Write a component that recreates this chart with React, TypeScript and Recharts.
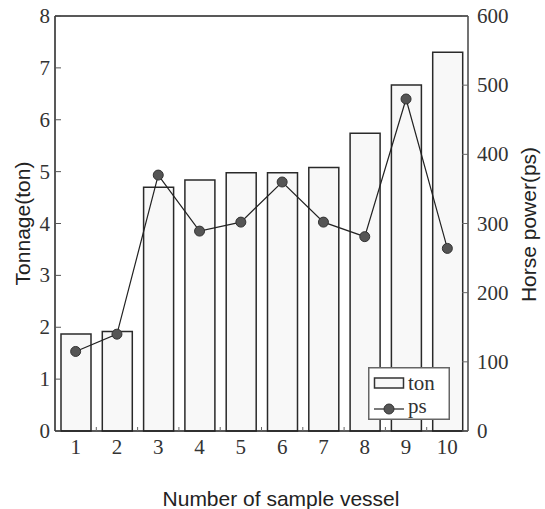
import { ComposedChart, Bar, Line, XAxis, YAxis, Legend } from "recharts";

const vessels = ["1", "2", "3", "4", "5", "6", "7", "8", "9", "10"];
const tonnage = [1.87, 1.92, 4.7, 4.84, 4.98, 4.98, 5.08, 5.74, 6.67, 7.3];
const horsePower = [115, 140, 370, 289, 302, 360, 302, 281, 480, 264];

const tonTicks = [0, 1, 2, 3, 4, 5, 6, 7, 8];
const psTicks = [0, 100, 200, 300, 400, 500, 600];
const boundaryTicks = [1.5, 2.5, 3.5, 4.5, 5.5, 6.5, 7.5, 8.5, 9.5];

const data = vessels.map((v, i) => ({
  vessel: v,
  idx: i + 1,
  ton: tonnage[i],
  ps: horsePower[i],
}));

const SERIF = "'Liberation Serif', 'Times New Roman', serif";
const SANS = "'Liberation Sans', Arial, sans-serif";

function VesselTick(props: any) {
  const { x, y, payload } = props;
  return (
    <text x={x} y={y + 23} textAnchor="middle" fontFamily={SERIF} fontSize={21} fill="#333">
      {payload.value}
    </text>
  );
}

function MinorTick(props: any) {
  const { x, y } = props;
  return <line x1={x} y1={y - 1} x2={x} y2={y - 5} stroke="#666" strokeWidth={1} />;
}

function LeftTick(props: any) {
  const { x, y, payload } = props;
  return (
    <g>
      <line x1={x} y1={y} x2={x + 6} y2={y} stroke="#555" strokeWidth={1} />
      <text x={x - 5} y={y} dy={7} textAnchor="end" fontFamily={SERIF} fontSize={21} fill="#333">
        {payload.value}
      </text>
    </g>
  );
}

function RightTick(props: any) {
  const { x, y, payload } = props;
  return (
    <g>
      <line x1={x - 6} y1={y} x2={x} y2={y} stroke="#666" strokeWidth={1} />
      <text x={x + 9} y={y} dy={7} textAnchor="start" fontFamily={SERIF} fontSize={21} fill="#333">
        {payload.value}
      </text>
    </g>
  );
}

function LegendBox() {
  return (
    <svg width={82} height={53} style={{ display: "block" }}>
      <rect x={0.75} y={0.75} width={80.5} height={51.5} fill="#fff" stroke="#666" strokeWidth={1.5} />
      <rect x={6.5} y={11} width={29} height={10} fill="#f8f8f8" stroke="#333" strokeWidth={1.5} />
      <text x={40} y={23} fontFamily={SERIF} fontSize={21} fill="#333">
        ton
      </text>
      <line x1={6} y1={42} x2={36} y2={42} stroke="#222" strokeWidth={1.2} />
      <circle cx={21} cy={42} r={5} fill="#555" stroke="#333" />
      <text x={40} y={46} fontFamily={SERIF} fontSize={21} fill="#333">
        ps
      </text>
    </svg>
  );
}

export default function App() {
  return (
    <div style={{ position: "absolute", left: 0, top: 0, background: "#fff" }}>
      <ComposedChart
        width={545}
        height={509}
        data={data}
        margin={{ top: 15, right: 17, left: 10, bottom: 76 }}
      >
        <XAxis
          xAxisId="cat"
          dataKey="vessel"
          height={1}
          tickLine={false}
          tickSize={0}
          tickMargin={0}
          interval={0}
          tick={<VesselTick />}
          axisLine={{ stroke: "#222", strokeWidth: 1.5 }}
          label={{
            content: (p: any) => {
              const vb = p.viewBox;
              return (
                <text
                  x={vb.x + vb.width / 2 + 19.5}
                  y={506}
                  textAnchor="middle"
                  fontFamily={SANS}
                  fontSize={21}
                  fill="#222"
                >
                  Number of sample vessel
                </text>
              );
            },
          }}
        />
        <XAxis
          xAxisId="minor"
          dataKey="idx"
          type="number"
          domain={[0.5, 10.5]}
          allowDataOverflow
          height={1}
          ticks={boundaryTicks}
          interval={0}
          tick={<MinorTick />}
          tickSize={0}
          tickMargin={0}
          tickLine={false}
          axisLine={false}
        />
        <XAxis
          xAxisId="top"
          orientation="top"
          dataKey="idx"
          type="number"
          domain={[0.5, 10.5]}
          allowDataOverflow
          height={1}
          ticks={[]}
          tick={false}
          tickLine={false}
          axisLine={{ stroke: "#222", strokeWidth: 1.5 }}
        />
        <YAxis
          yAxisId="left"
          domain={[0, 8]}
          ticks={tonTicks}
          interval={0}
          width={45}
          tickSize={0}
          tickMargin={0}
          tickLine={false}
          tick={<LeftTick />}
          axisLine={{ stroke: "#222", strokeWidth: 1.5 }}
          label={{
            content: (p: any) => {
              const vb = p.viewBox;
              const cx = vb.x + 12;
              const cy = vb.y + vb.height / 2;
              return (
                <text
                  x={cx}
                  y={cy}
                  transform={`rotate(-90 ${cx} ${cy})`}
                  textAnchor="middle"
                  dominantBaseline="central"
                  fontFamily={SANS}
                  fontSize={21}
                  fill="#222"
                >
                  Tonnage(ton)
                </text>
              );
            },
          }}
        />
        <YAxis
          yAxisId="right"
          orientation="right"
          domain={[0, 600]}
          ticks={psTicks}
          interval={0}
          width={60}
          tickSize={0}
          tickMargin={0}
          tickLine={false}
          tick={<RightTick />}
          axisLine={{ stroke: "#444", strokeWidth: 1.5 }}
          label={{
            content: (p: any) => {
              const vb = p.viewBox;
              const cx = vb.x + 60;
              const cy = vb.y + vb.height / 2 + 1;
              return (
                <text
                  x={cx}
                  y={cy}
                  transform={`rotate(-90 ${cx} ${cy})`}
                  textAnchor="middle"
                  dominantBaseline="central"
                  fontFamily={SANS}
                  fontSize={21}
                  fill="#222"
                >
                  Horse power(ps)
                </text>
              );
            },
          }}
        />
        <Bar
          xAxisId="cat"
          yAxisId="left"
          dataKey="ton"
          barSize={30}
          fill="#f8f8f8"
          stroke="#2a2a2a"
          strokeWidth={1.5}
          isAnimationActive={false}
        />
        <Line
          xAxisId="cat"
          yAxisId="right"
          dataKey="ps"
          type="linear"
          stroke="#222"
          strokeWidth={1.2}
          dot={{ r: 5, fill: "#555", stroke: "#333", strokeWidth: 1 }}
          activeDot={false}
          isAnimationActive={false}
        />
        <Legend
          layout="vertical"
          verticalAlign="middle"
          align="center"
          content={() => <LegendBox />}
          wrapperStyle={{ position: "absolute", left: 368, top: 367, width: 82, height: 53 }}
        />
      </ComposedChart>
    </div>
  );
}
